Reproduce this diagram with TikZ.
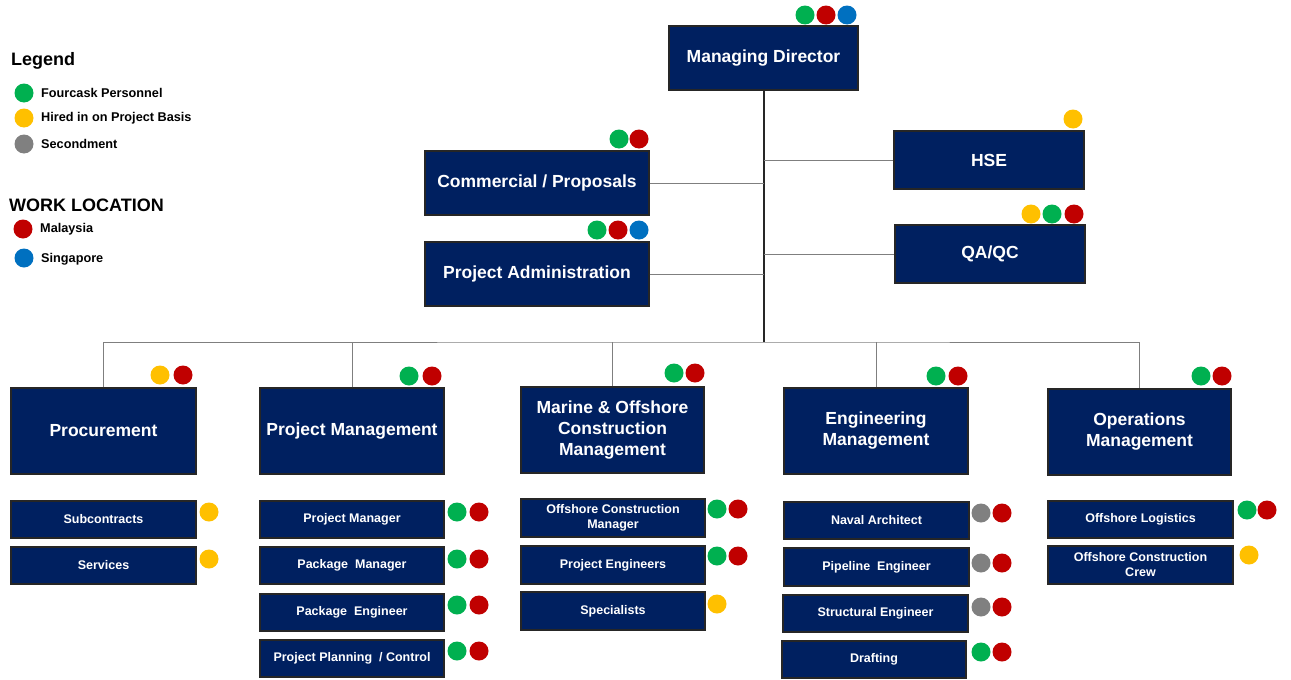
\documentclass[tikz,border=0pt]{standalone}
\usepackage{fontspec}
\setmainfont{Liberation Sans}
\definecolor{navy}{HTML}{002060}
\definecolor{cgreen}{HTML}{00B050}
\definecolor{cred}{HTML}{C00000}
\definecolor{cblue}{HTML}{0070C0}
\definecolor{cyellow}{HTML}{FFC000}
\definecolor{cgray}{HTML}{808080}
\definecolor{linegray}{HTML}{7F7F7F}
\begin{document}
\begin{tikzpicture}[x=1pt,y=-1pt,
  box/.style={draw=black!85, line width=1.2pt, fill=navy, text=white, inner sep=0pt, align=center, font=\bfseries},
  bigbox/.style={box, font=\bfseries\fontsize{17.5}{21}\selectfont},
  subbox/.style={box, font=\bfseries\fontsize{12.5}{14.5}\selectfont},
  conn/.style={draw=linegray, line width=1pt},
  trunk/.style={draw=black!85, line width=1.2pt},
  legtext/.style={anchor=west, inner sep=0pt, font=\bfseries\fontsize{12.7}{14}\selectfont},
  leghead/.style={anchor=west, inner sep=0pt, font=\bfseries\fontsize{18}{20}\selectfont},
]
\useasboundingbox (0,0) rectangle (1291,680);
% dot macro
\def\D#1#2#3{\fill[#1] (#2,#3) circle (9.5);}

% Legend
\node[leghead] (lg) at (11,61) {Legend};
\D{cgreen}{24}{93} \node[legtext] (l1) at (41,93) {Fourcask Personnel};
\D{cyellow}{24}{118} \node[legtext] (l2) at (41,118) {Hired in on Project Basis};
\D{cgray}{24}{144} \node[legtext] (l3) at (41,144) {Secondment};
\node[leghead] (wl) at (9,205) {WORK LOCATION};
\D{cred}{23}{229} \node[legtext] (l4) at (40,229) {Malaysia};
\D{cblue}{24}{258} \node[legtext] (l5) at (41,259) {Singapore};

% Top level
\node[bigbox, minimum width=189, minimum height=64] (md) at (763.5,58) {Managing Director};
\D{cgreen}{805}{15}\D{cred}{826}{15}\D{cblue}{847}{15}

\node[bigbox, minimum width=224, minimum height=64] (comm) at (537,183) {Commercial / Proposals};
\D{cgreen}{619}{139}\D{cred}{639}{139}
\node[bigbox, minimum width=224, minimum height=64] (padm) at (537,274) {Project Administration};
\D{cgreen}{597}{230}\D{cred}{618}{230}\D{cblue}{639}{230}

\node[bigbox, minimum width=190, minimum height=58] (hse) at (989,160) {HSE};
\D{cyellow}{1073}{119}
\node[bigbox, minimum width=190, minimum height=58] (qaqc) at (990,254) {QA/QC};
\D{cyellow}{1031}{214}\D{cgreen}{1052}{214}\D{cred}{1074}{214}

\coordinate (busc) at (764,342);
\draw[trunk] (md.south -| busc) -- (busc);
\draw[conn] (comm.east) -- (comm.east -| busc);
\draw[conn] (padm.east) -- (padm.east -| busc);
\draw[conn] (hse.west) -- (hse.west -| busc);
\draw[conn] (qaqc.west) -- (qaqc.west -| busc);

% Second level
\node[bigbox, minimum width=185, minimum height=86] (proc) at (103.5,431) {Procurement};
\D{cyellow}{160}{375}\D{cred}{183}{375}
\node[bigbox, minimum width=184, minimum height=86] (pm) at (352,431) {Project Management};
\D{cgreen}{409}{376}\D{cred}{432}{376}
\node[bigbox, minimum width=183, minimum height=86] (moc) at (612.5,430) {Marine \& Offshore\\Construction\\Management};
\D{cgreen}{674}{373}\D{cred}{695}{373}
\node[bigbox, minimum width=184, minimum height=86] (eng) at (876,431) {Engineering\\Management};
\D{cgreen}{936}{376}\D{cred}{958}{376}
\node[bigbox, minimum width=183, minimum height=86] (ops) at (1139.5,432) {Operations\\Management};
\D{cgreen}{1201}{376}\D{cred}{1222}{376}

\draw[conn] (proc.north) |- (busc) -| (ops.north);
\draw[conn] (pm.north) -- (pm.north |- busc);
\draw[conn] (moc.north) -- (moc.north |- busc);
\draw[conn] (eng.north) -- (eng.north |- busc);

% Procurement column
\node[subbox, minimum width=185, minimum height=37] (sub) at (103.5,519.5) {Subcontracts};
\D{cyellow}{209}{512}
\node[subbox, minimum width=185, minimum height=37] (serv) at (103.5,565.5) {Services};
\D{cyellow}{209}{559}

% Project Management column
\node[subbox, minimum width=184, minimum height=37] (prm) at (352,519.5) {Project Manager};
\D{cgreen}{457}{512}\D{cred}{479}{512}
\node[subbox, minimum width=184, minimum height=37] (pkm) at (352,565.5) {Package~ Manager};
\D{cgreen}{457}{559}\D{cred}{479}{559}
\node[subbox, minimum width=184, minimum height=37] (pke) at (352,612.5) {Package~ Engineer};
\D{cgreen}{457}{605}\D{cred}{479}{605}
\node[subbox, minimum width=184, minimum height=37] (ppc) at (352,658.5) {Project Planning~ / Control};
\D{cgreen}{457}{651}\D{cred}{479}{651}

% Marine column
\node[subbox, minimum width=184, minimum height=38, font=\bfseries\fontsize{12.5}{15}\selectfont] (ocm) at (613,518) {Offshore Construction\\Manager};
\D{cgreen}{717}{509}\D{cred}{738}{509}
\node[subbox, minimum width=184, minimum height=38] (pen) at (613,565) {Project Engineers};
\D{cgreen}{717}{556}\D{cred}{738}{556}
\node[subbox, minimum width=184, minimum height=38] (spec) at (613,611) {Specialists};
\D{cyellow}{717}{604}

% Engineering column
\node[subbox, minimum width=185, minimum height=37] (nav) at (876.5,520.5) {Naval Architect};
\D{cgray}{981}{513}\D{cred}{1002}{513}
\node[subbox, minimum width=185, minimum height=38] (pipe) at (876.5,567) {Pipeline~ Engineer};
\D{cgray}{981}{563}\D{cred}{1002}{563}
\node[subbox, minimum width=185, minimum height=37] (str) at (875.5,613.5) {Structural Engineer};
\D{cgray}{981}{607}\D{cred}{1002}{607}
\node[subbox, minimum width=184, minimum height=37] (draft) at (874,659.5) {Drafting};
\D{cgreen}{981}{652}\D{cred}{1002}{652}

% Operations column
\node[subbox, minimum width=185, minimum height=37] (olog) at (1140.5,519.5) {Offshore Logistics};
\D{cgreen}{1247}{510}\D{cred}{1267}{510}
\node[subbox, minimum width=185, minimum height=38, font=\bfseries\fontsize{12.5}{15}\selectfont] (occ) at (1140.5,565) {Offshore Construction\\Crew};
\D{cyellow}{1249}{555}
\end{tikzpicture}
\end{document}
